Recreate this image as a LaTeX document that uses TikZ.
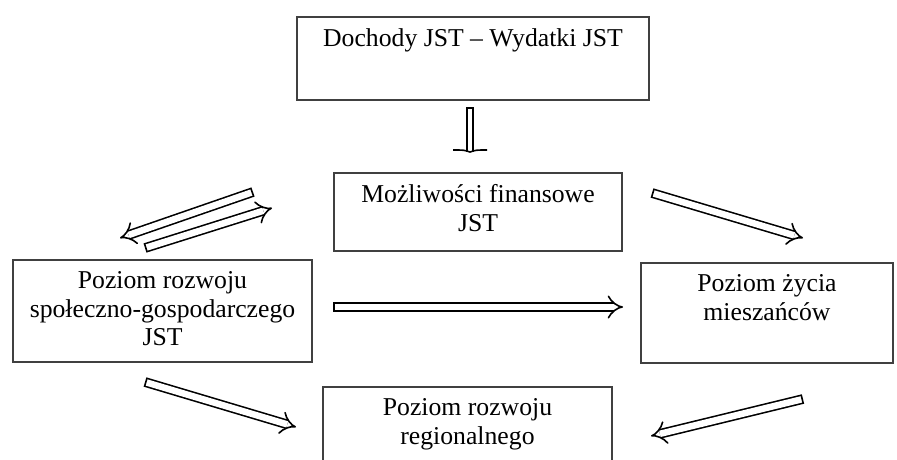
\documentclass[tikz,border=0pt]{standalone}
\usepackage{fontspec}
\setmainfont{Liberation Serif}
\usetikzlibrary{arrows.meta, calc}

\tikzset{
  box/.style={draw=black!75, line width=1.4pt, rectangle, inner sep=0pt},
  txt/.style={anchor=north, align=center, inner sep=0pt,
    font=\fontsize{25.7}{28.5}\selectfont},
  dbl/.style={draw=black, double=white, double distance=6.5pt,
    line width=1.6pt, {Bar[width=9.7pt]}-{Implies}}
}

\begin{document}
\begin{tikzpicture}[x=1pt, y=-1pt]
    \clip (0,0) rectangle (897,459);

    % boxes
    \node[box, minimum width=352pt, minimum height=83pt] (dochody) at (473,58.5) {};
    \node[box, minimum width=288pt, minimum height=78pt] (mozliwosci) at (478,212) {};
    \node[box, minimum width=299pt, minimum height=102pt] (rozwoj) at (162.5,311) {};
    \node[box, minimum width=252pt, minimum height=100pt] (zycie) at (767,313) {};
    \node[box, minimum width=289pt, minimum height=86pt] (region) at (467.5,430) {};

    \node[txt] (dochodyT) at ([yshift=-12pt]dochody.north) {Dochody JST – Wydatki JST};
    \node[txt] (mozliwosciT) at ([yshift=-12pt]mozliwosci.north) {Możliwości finansowe\\JST};
    \node[txt] (rozwojT) at ([yshift=-12pt]rozwoj.north) {Poziom rozwoju\\społeczno-gospodarczego\\JST};
    \node[txt] (zycieT) at ([yshift=-12pt]zycie.north) {Poziom życia\\mieszańców};
    \node[txt] (regionT) at ([yshift=-12pt]region.north) {Poziom rozwoju\\regionalnego};

    % arrow ends
    \coordinate (d1) at (470,107);  \coordinate (d2) at (470,152);
    \coordinate (l1) at (253,192);  \coordinate (l2) at (120,238);
    \coordinate (k1) at (145,248);  \coordinate (k2) at (272,208);
    \coordinate (r1) at (652,193);  \coordinate (r2) at (803,238);
    \coordinate (h1) at (333,307);  \coordinate (h2) at (623,307);
    \coordinate (b1) at (145,382);  \coordinate (b2) at (296,427);
    \coordinate (c1) at (803,399);  \coordinate (c2) at (651,436);

    \draw[dbl, double distance=4.5pt, {Bar[width=7.7pt]}-] (d1) -- (d2);
    \draw[line width=1.6pt] ($(d2)+(-17,-2)$) .. controls ($(d2)+(-6,-2)$) .. (d2)
      .. controls ($(d2)+(6,-2)$) .. ($(d2)+(17,-2)$);
    \draw[dbl] (l1) -- (l2);
    \draw[dbl] (k1) -- (k2);
    \draw[dbl] (r1) -- (r2);
    \draw[dbl] (h1) -- (h2);
    \draw[dbl] (b1) -- (b2);
    \draw[dbl] (c1) -- (c2);
\end{tikzpicture}
\end{document}
